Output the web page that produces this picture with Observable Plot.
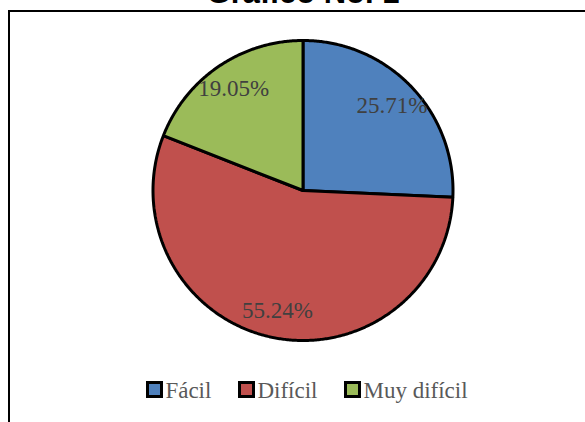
<!DOCTYPE html>
<html>
<head>
<meta charset="utf-8">
<script src="https://cdn.jsdelivr.net/npm/d3@7"></script>
<script src="https://cdn.jsdelivr.net/npm/@observablehq/plot@0.6"></script>
<style>
  html, body { margin: 0; padding: 0; background: white; }
  #wrap { position: relative; width: 585px; height: 422px; overflow: hidden; background: white; }
  #title { position: absolute; left: 0; width: 606px; top: -23px; text-align: center;
           font: bold 31px/31px "Liberation Sans", Arial, sans-serif; color: #000; white-space: nowrap; }
  #frame { position: absolute; left: 8px; top: 10px; width: 620px; height: 500px;
           border: 2px solid #000; box-sizing: border-box; }
  #chart { position: absolute; left: 0; top: 0; }
  #legend { position: absolute; left: 0; top: 379px; width: 614px; display: flex; justify-content: center;
            gap: 27px; font: 23px/23px "Liberation Serif", "Times New Roman", serif; color: #595959; white-space: nowrap; }
  .item { display: inline-block; }
  .sw { display: inline-block; width: 17px; height: 17px; border: 3px solid #000; box-sizing: border-box;
        vertical-align: baseline; margin-right: 2px; }
</style>
</head>
<body>
<div id="wrap">
  <div id="title">Gráfico No. 1</div>
  <div id="chart"></div>
  <div id="frame"></div>
  <div id="legend"></div>
</div>
<script>
const categories = ["Fácil", "Difícil", "Muy difícil"];
const values = [25.71, 55.24, 19.05];
const labels = ["25.71%", "55.24%", "19.05%"];
const colors = ["#4F81BD", "#C0504D", "#9BBB59"];

const total = d3.sum(values);
const slices = [];
const textPts = [];
let cum = 0;
categories.forEach((cat, i) => {
  const a0 = cum / total * 2 * Math.PI;
  cum += values[i];
  const a1 = cum / total * 2 * Math.PI;
  const pts = [{cat, x: 0, y: 0}];
  const n = Math.max(4, Math.ceil((a1 - a0) / (Math.PI / 360)));
  for (let k = 0; k <= n; k++) {
    const a = a0 + (a1 - a0) * k / n;
    pts.push({cat, x: Math.sin(a), y: Math.cos(a)});
  }
  pts.push({cat, x: 0, y: 0});
  slices.push(...pts);
  const am = (a0 + a1) / 2;
  textPts.push({cat, label: labels[i], x: 0.82 * Math.sin(am), y: 0.82 * Math.cos(am)});
});

const chart = Plot.plot({
  width: 585,
  height: 422,
  margin: 0,
  style: {background: "transparent"},
  x: {domain: [-1, 1], range: [152.5, 452.5], axis: null},
  y: {domain: [-1, 1], range: [340, 40], axis: null},
  color: {domain: categories, range: colors},
  marks: [
    Plot.line(slices, {x: "x", y: "y", z: "cat", fill: "cat", stroke: "black", strokeWidth: 3, strokeLinejoin: "miter"}),
    Plot.text(textPts, {x: "x", y: "y", text: "label", fill: "#404040", fontSize: 23,
                        fontFamily: "Liberation Serif, Times New Roman, serif"})
  ]
});
document.getElementById("chart").appendChild(chart);

const legend = document.getElementById("legend");
categories.forEach((cat, i) => {
  const item = document.createElement("span");
  item.className = "item";
  const sw = document.createElement("span");
  sw.className = "sw";
  sw.style.background = colors[i];
  item.appendChild(sw);
  item.appendChild(document.createTextNode(cat));
  legend.appendChild(item);
});
</script>
</body>
</html>
